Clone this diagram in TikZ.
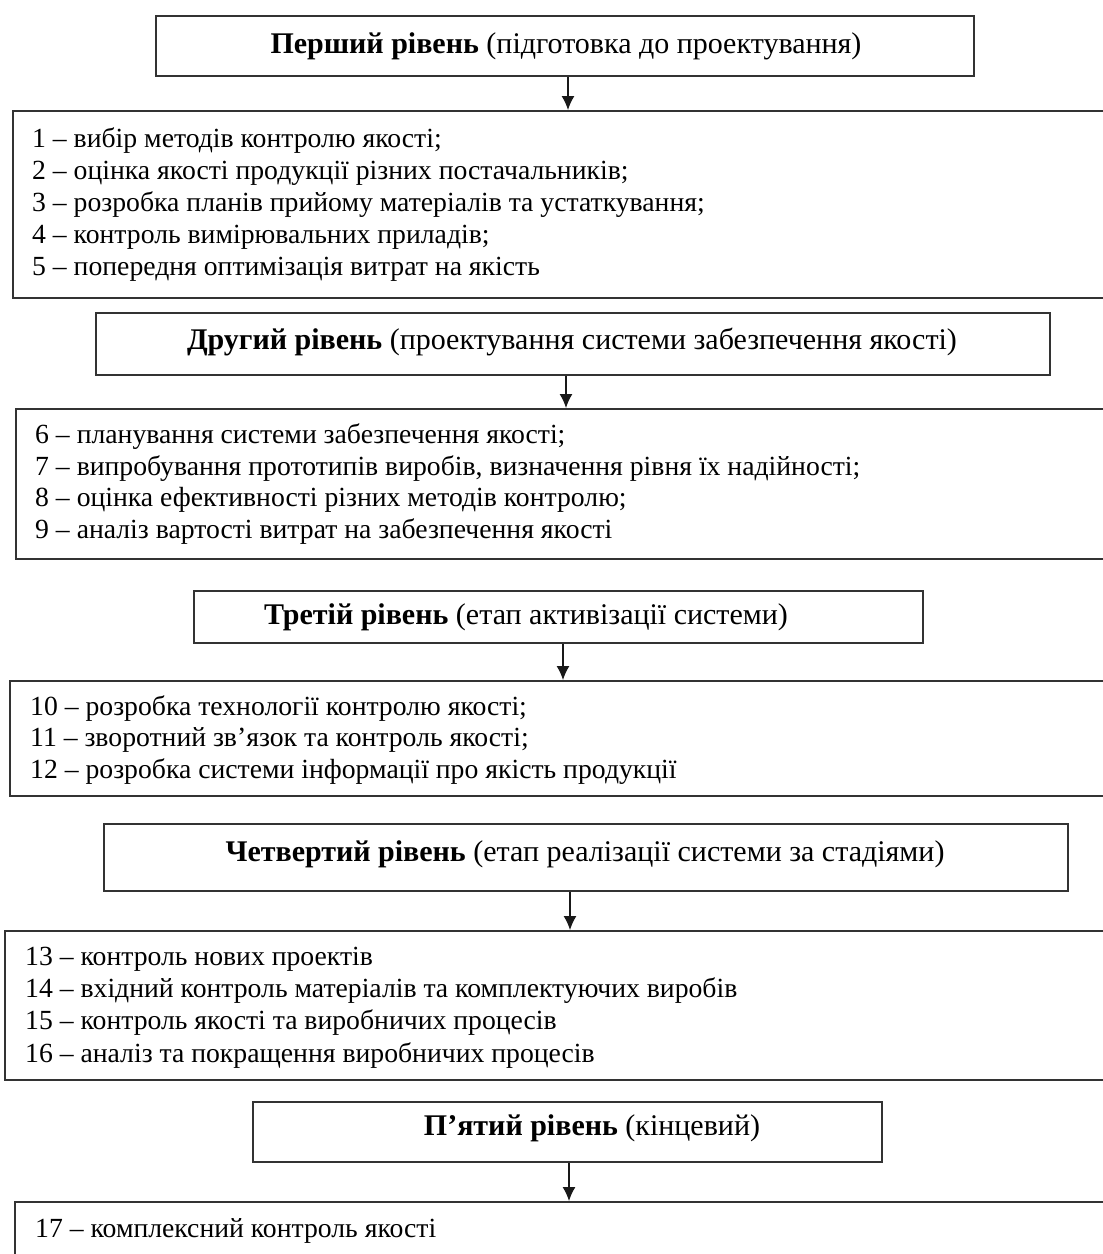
\documentclass[tikz,border=0pt]{standalone}
\usepackage{fontspec}
\setmainfont{Liberation Serif}
\usetikzlibrary{arrows.meta}
\begin{document}
\begin{tikzpicture}[x=1pt,y=-1pt,
  frame/.style={draw=black!80, line width=1.8pt, inner sep=0pt, anchor=north west},
  hdr/.style={font=\fontsize{30}{34}\selectfont, inner sep=0pt},
  lst/.style={font=\fontsize{27.7}{32}\selectfont, inner sep=0pt, anchor=base west},
  conn/.style={-{Latex[length=14pt,width=13pt]}, line width=1.3pt, black!90}]
\clip (0,0) rectangle (1103,1254);
% level 1
\node[frame, minimum width=818pt, minimum height=60pt] (h1) at (155,15) {};
\node[hdr] (h1t) at (566,46) {\textbf{Перший рівень} (підготовка до проектування)};
\node[frame, minimum width=1100pt, minimum height=187pt] (b1) at (12,110) {};
\node[lst] (l1) at (32,147) {1 – вибір методів контролю якості;};
\node[lst] (l2) at (32,179) {2 – оцінка якості продукції різних постачальників;};
\node[lst] (l3) at (32,211) {3 – розробка планів прийому матеріалів та устаткування;};
\node[lst] (l4) at (32,243) {4 – контроль вимірювальних приладів;};
\node[lst] (l5) at (32,275) {5 – попередня оптимізація витрат на якість};
\draw[conn] (h1.south -| 568,0) -- (b1.north -| 568,0);
% level 2
\node[frame, minimum width=954pt, minimum height=62pt] (h2) at (95,312) {};
\node[hdr] (h2t) at (572,342) {\textbf{Другий рівень} (проектування системи забезпечення якості)};
\node[frame, minimum width=1100pt, minimum height=150pt] (b2) at (15,408) {};
\node[lst] (l6) at (35,443) {6 – планування системи забезпечення якості;};
\node[lst] (l7) at (35,475) {7 – випробування прототипів виробів, визначення рівня їх надійності;};
\node[lst] (l8) at (35,506) {8 – оцінка ефективності різних методів контролю;};
\node[lst] (l9) at (35,538) {9 – аналіз вартості витрат на забезпечення якості};
\draw[conn] (h2.south -| 566,0) -- (b2.north -| 566,0);
% level 3
\node[frame, minimum width=729pt, minimum height=52pt] (h3) at (193,590) {};
\node[hdr] (h3t) at (526,617) {\textbf{Третій рівень} (етап активізації системи)};
\node[frame, minimum width=1100pt, minimum height=115pt] (b3) at (9,680) {};
\node[lst] (l10) at (30,715) {10 – розробка технології контролю якості;};
\node[lst] (l11) at (30,746) {11 – зворотний зв’язок та контроль якості;};
\node[lst] (l12) at (30,778) {12 – розробка системи інформації про якість продукції};
\draw[conn] (h3.south -| 563,0) -- (b3.north -| 563,0);
% level 4
\node[frame, minimum width=964pt, minimum height=67pt] (h4) at (103,823) {};
\node[hdr] (h4t) at (585,854) {\textbf{Четвертий рівень} (етап реалізації системи за стадіями)};
\node[frame, minimum width=1110pt, minimum height=149pt] (b4) at (4,930) {};
\node[lst] (l13) at (25,965) {13 – контроль нових проектів};
\node[lst] (l14) at (25,997) {14 – вхідний контроль матеріалів та комплектуючих виробів};
\node[lst] (l15) at (25,1029) {15 – контроль якості та виробничих процесів};
\node[lst] (l16) at (25,1062) {16 – аналіз та покращення виробничих процесів};
\draw[conn] (h4.south -| 570,0) -- (b4.north -| 570,0);
% level 5
\node[frame, minimum width=629pt, minimum height=60pt] (h5) at (252,1101) {};
\node[hdr] (h5t) at (592,1128) {\textbf{П’ятий рівень} (кінцевий)};
\node[frame, minimum width=1100pt, minimum height=120pt] (b5) at (14,1201) {};
\node[lst] (l17) at (35,1237) {17 – комплексний контроль якості};
\draw[conn] (h5.south -| 569,0) -- (b5.north -| 569,0);
\end{tikzpicture}
\end{document}
